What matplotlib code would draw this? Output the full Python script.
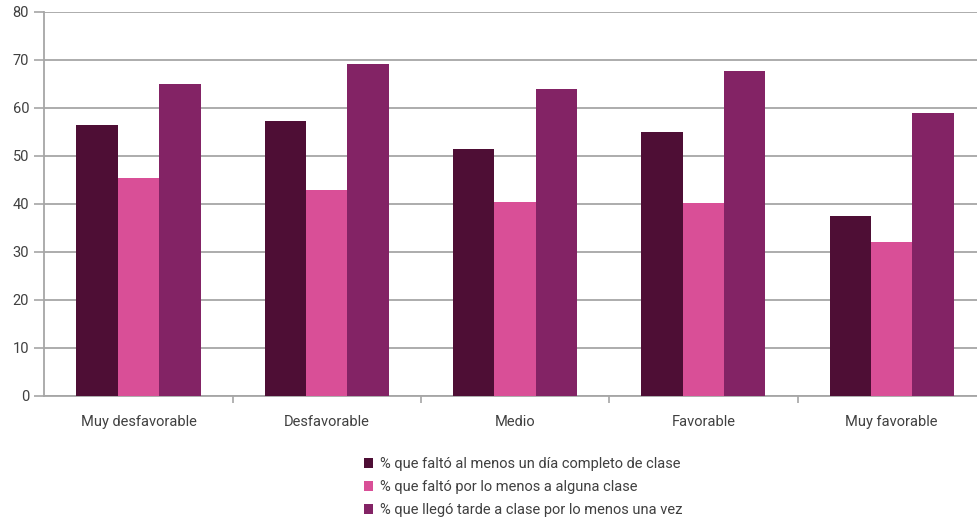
import matplotlib
matplotlib.use("Agg")
import matplotlib.pyplot as plt
import numpy as np
from matplotlib.patches import Patch

plt.rcParams['font.family'] = ['Roboto', 'DejaVu Sans']

categories = ["Muy desfavorable", "Desfavorable", "Medio", "Favorable", "Muy favorable"]
series_names = [
    "% que faltó al menos un día completo de clase",
    "% que faltó por lo menos a alguna clase",
    "% que llegó tarde a clase por lo menos una vez",
]
falto_dia = [56.3, 57.2, 51.4, 54.9, 37.4]
falto_clase = [45.4, 42.8, 40.4, 40.2, 32.0]
llego_tarde = [64.9, 69.2, 63.8, 67.6, 58.8]
colors = ["#4E0E35", "#D94F97", "#832365"]

W, H = 978, 522
fig = plt.figure(figsize=(W / 100, H / 100), dpi=100)
ax_left, ax_bottom, ax_top = 44.3, 395.7, 11.7
ax = fig.add_axes([ax_left / W, 1 - ax_bottom / H, (W - ax_left) / W, (ax_bottom - ax_top) / H])

x = np.arange(len(categories))
bw = 0.22
for i, (vals, c, name) in enumerate(zip([falto_dia, falto_clase, llego_tarde], colors, series_names)):
    ax.bar(x + (i - 1) * bw, vals, width=bw, color=c, edgecolor="none", zorder=3, label=name)

group_px = 188.3
ax.set_xlim(-0.5, -0.5 + (W - ax_left) / group_px)
ax.set_ylim(0, 80)
ax.set_yticks(range(0, 81, 10))
ax.yaxis.grid(True, color="#A6A6A6", linewidth=1.3, zorder=0)
ax.set_axisbelow(True)

# category separators as minor ticks on the x axis
ax.set_xticks(x)
ax.set_xticklabels(categories)
ax.set_xticks(np.arange(0.5, 4.0, 1.0), minor=True)
ax.tick_params(axis="x", which="major", length=0, pad=14, labelsize=10.5, labelcolor="#404040")
ax.tick_params(axis="x", which="minor", length=5, width=1.2, color="#A6A6A6", direction="out")
ax.tick_params(axis="y", length=7, width=1.2, color="#A6A6A6", labelsize=10.5, labelcolor="#404040", pad=4)

for s in ["top", "right"]:
    ax.spines[s].set_visible(False)
for s in ["left", "bottom"]:
    ax.spines[s].set_color("#A6A6A6")
    ax.spines[s].set_linewidth(1.3)

handles = [Patch(facecolor=c, edgecolor="none") for c in colors]
fig.legend(handles, series_names, loc="upper left",
           bbox_to_anchor=(358 / W, 1 - 451 / H), frameon=False,
           handlelength=0.65, handleheight=0.65, handletextpad=0.45,
           labelspacing=0.62, fontsize=10.5, labelcolor="#404040",
           borderaxespad=0.0)

fig.savefig("out.png", dpi=100)
